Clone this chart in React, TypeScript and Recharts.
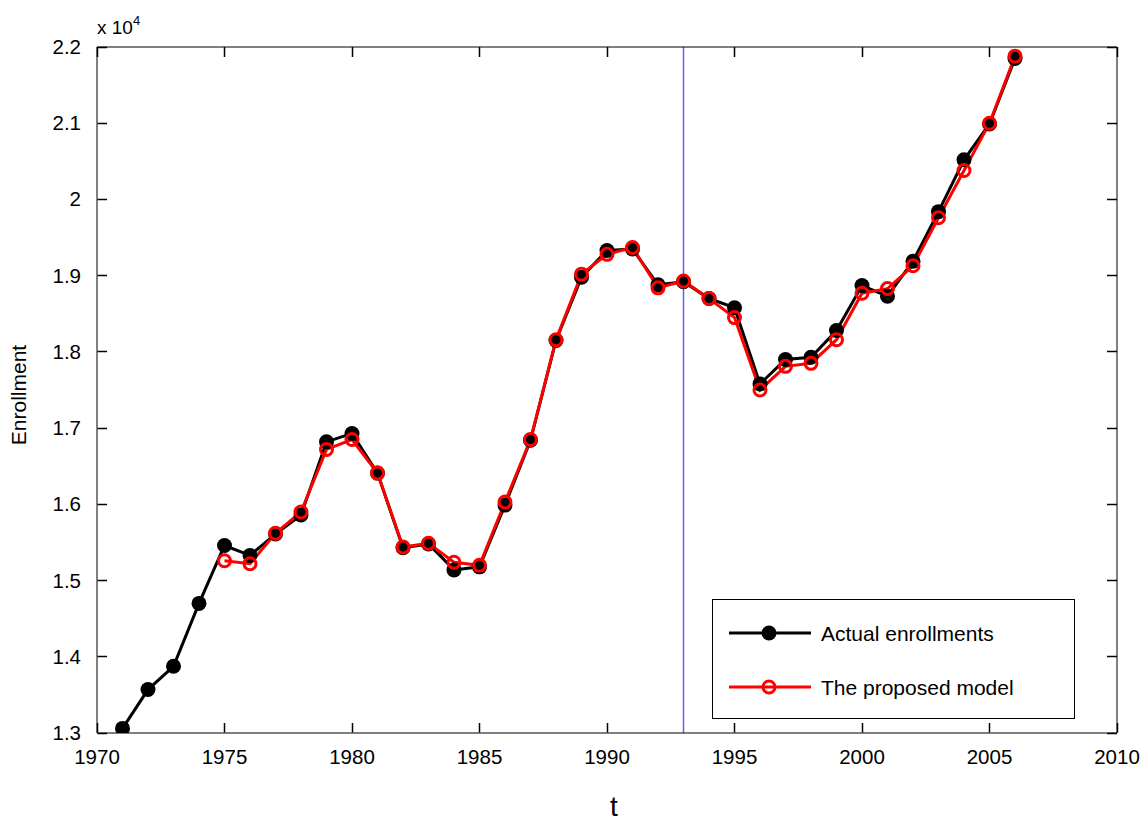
import React from 'react';
import { LineChart, Line, XAxis, YAxis, ReferenceLine, Legend } from 'recharts';

const years = [
  1971, 1972, 1973, 1974, 1975, 1976, 1977, 1978, 1979, 1980, 1981, 1982,
  1983, 1984, 1985, 1986, 1987, 1988, 1989, 1990, 1991, 1992, 1993, 1994,
  1995, 1996, 1997, 1998, 1999, 2000, 2001, 2002, 2003, 2004, 2005, 2006,
];

const actualEnrollments = [
  13060, 13570, 13875, 14700, 15460, 15330, 15610, 15860, 16820, 16930, 16410, 15430,
  15480, 15140, 15180, 15990, 16840, 18150, 18980, 19330, 19350, 18880, 18920, 18700,
  18580, 17580, 17900, 17930, 18280, 18870, 18730, 19190, 19840, 20520, 20990, 21850,
];

const modelStartYear = 1975;
const proposedModel = [
  15260, 15220, 15620, 15900, 16720, 16850, 16410, 15440, 15490, 15240, 15200, 16030,
  16850, 18160, 19020, 19280, 19370, 18840, 18930, 18700, 18450, 17500, 17810, 17850,
  18160, 18770, 18830, 19130, 19760, 20380, 21000, 21880,
];

const xTicks = [1970, 1975, 1980, 1985, 1990, 1995, 2000, 2005, 2010];
const yTicks = [13000, 14000, 15000, 16000, 17000, 18000, 19000, 20000, 21000, 22000];
const splitYear = 1993;

const data = years.map((year, i) => {
  const mi = year - modelStartYear;
  return {
    year,
    actual: actualEnrollments[i],
    model: mi >= 0 ? proposedModel[mi] : null,
  };
});

const FONT = '"Liberation Sans", Arial, Helvetica, sans-serif';

const fmtY = (v: number) => String(Math.round(v / 100) / 100);
const crisp = (v: number) => Math.round(v - 0.5) + 0.5;

const BottomTick = (props: any) => {
  const { x, y, payload } = props;
  const cx = crisp(x);
  return (
    <g>
      <line x1={cx} x2={cx} y1={y - 0.5} y2={y - 10} stroke="#000" strokeWidth={1.5} />
      <text x={x} y={y + 30.5} textAnchor="middle" fontSize={20.5} fontFamily={FONT} fill="#000">
        {payload.value}
      </text>
    </g>
  );
};

const LeftTick = (props: any) => {
  const { x, y, payload } = props;
  const cy = crisp(y);
  return (
    <g>
      <line x1={x + 0.5} x2={x + 10} y1={cy} y2={cy} stroke="#000" strokeWidth={1.5} />
      <text x={x - 16} y={y + 7} textAnchor="end" fontSize={20.5} fontFamily={FONT} fill="#000">
        {fmtY(payload.value)}
      </text>
    </g>
  );
};

const TopTick = (props: any) => {
  const { x, y } = props;
  const cx = crisp(x);
  return <line x1={cx} x2={cx} y1={y} y2={y + 10} stroke="#000" strokeWidth={1.5} />;
};

const RightTick = (props: any) => {
  const { x, y } = props;
  const cy = crisp(y);
  return <line x1={x} x2={x - 10} y1={cy} y2={cy} stroke="#000" strokeWidth={1.5} />;
};

const YLabel = () => (
  <g>
    <text
      x={18}
      y={395}
      transform="rotate(-90 18 395)"
      textAnchor="middle"
      dominantBaseline="central"
      fontSize={21}
      fontFamily={FONT}
      fill="#000"
    >
      Enrollment
    </text>
    <text x={97} y={34} fontSize={19} fontFamily={FONT} fill="#000">
      x 10
      <tspan dy={-9} fontSize={13}>4</tspan>
    </text>
  </g>
);

const XLabel = () => (
  <text x={614} y={816} textAnchor="middle" fontSize={28} fontFamily={FONT} fill="#000">
    t
  </text>
);

const LegendBox = () => (
  <svg width={363} height={120} style={{ display: 'block' }}>
    <rect x={0.5} y={0.5} width={362} height={119} fill="#fff" stroke="#000" strokeWidth={1} />
    <line x1={17} x2={99} y1={34} y2={34} stroke="#000" strokeWidth={3} />
    <circle cx={57} cy={34} r={7.5} fill="#000" />
    <text x={109} y={41.5} fontSize={21} fontFamily={FONT} fill="#000">
      Actual enrollments
    </text>
    <line x1={17} x2={99} y1={88} y2={88} stroke="#ff0000" strokeWidth={3} />
    <circle cx={57} cy={88} r={6} fill="none" stroke="#ff0000" strokeWidth={3} />
    <text x={109} y={95.5} fontSize={21} fontFamily={FONT} fill="#000">
      The proposed model
    </text>
  </svg>
);

export default function App() {
  return (
    <div style={{ position: 'absolute', left: 0, top: 0, width: 1142, height: 824, background: '#fff' }}>
      <LineChart
        width={1142}
        height={824}
        data={data}
        margin={{ top: 46, right: 24, bottom: 0, left: 0 }}
      >
        <XAxis
          dataKey="year"
          type="number"
          domain={[1970, 2010]}
          ticks={xTicks}
          interval={0}
          allowDataOverflow
          height={91}
          tickSize={0}
          tickMargin={0}
          tickLine={false}
          axisLine={{ stroke: '#000', strokeWidth: 1 }}
          tick={<BottomTick />}
          label={{ content: <XLabel /> }}
        />
        <XAxis
          xAxisId="top"
          dataKey="year"
          orientation="top"
          type="number"
          domain={[1970, 2010]}
          ticks={xTicks}
          interval={0}
          allowDataOverflow
          height={1}
          tickSize={0}
          tickMargin={0}
          tickLine={false}
          axisLine={{ stroke: '#000', strokeWidth: 1 }}
          tick={<TopTick />}
        />
        <YAxis
          type="number"
          domain={[13000, 22000]}
          ticks={yTicks}
          interval={0}
          allowDataOverflow
          width={97}
          tickSize={0}
          tickMargin={0}
          tickLine={false}
          axisLine={{ stroke: '#000', strokeWidth: 1 }}
          tick={<LeftTick />}
          label={{ content: <YLabel /> }}
        />
        <YAxis
          yAxisId="right"
          orientation="right"
          type="number"
          domain={[13000, 22000]}
          ticks={yTicks}
          interval={0}
          allowDataOverflow
          width={1}
          tickSize={0}
          tickMargin={0}
          tickLine={false}
          axisLine={{ stroke: '#000', strokeWidth: 1 }}
          tick={<RightTick />}
        />
        <ReferenceLine x={splitYear} stroke="#6060ff" strokeWidth={1.5} />
        <Line
          dataKey="actual"
          stroke="#000"
          strokeWidth={3}
          dot={{ r: 7.5, fill: '#000', stroke: '#000', strokeWidth: 0 }}
          activeDot={false}
          isAnimationActive={false}
        />
        <Line
          dataKey="model"
          xAxisId="top"
          yAxisId="right"
          stroke="#ff0000"
          strokeWidth={3}
          dot={{ r: 6, fill: 'none', stroke: '#ff0000', strokeWidth: 3 }}
          activeDot={false}
          connectNulls={false}
          isAnimationActive={false}
        />
        <Legend
          layout="vertical"
          align="center"
          verticalAlign="middle"
          content={<LegendBox />}
          wrapperStyle={{ position: 'absolute', left: 712, top: 599, width: 363, height: 120, margin: 0 }}
        />
      </LineChart>
    </div>
  );
}
